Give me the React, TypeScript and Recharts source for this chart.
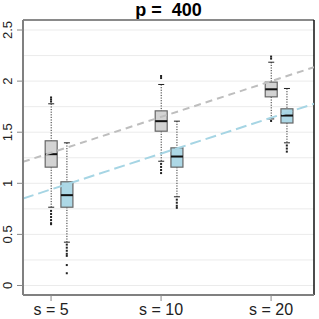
import {
  Bar,
  CartesianGrid,
  ComposedChart,
  Line,
  ReferenceLine,
  Scatter,
  XAxis,
  YAxis,
} from "recharts";

const categories = ["s = 5", "s = 10", "s = 20"];
const yTicks = [0, 0.5, 1, 1.5, 2, 2.5];
const gridValues = [0, 0.25, 0.5, 0.75, 1, 1.25, 1.5, 1.75, 2, 2.25, 2.5];

// box stats per category: lower whisker, q1, median, q3, upper whisker
const grayLo = [0.766, 1.216, 1.63];
const grayQ1 = [1.158, 1.51, 1.846];
const grayMed = [1.285, 1.608, 1.92];
const grayQ3 = [1.416, 1.709, 1.99];
const grayHi = [1.778, 1.967, 2.185];

const blueLo = [0.424, 0.868, 1.396];
const blueQ1 = [0.766, 1.158, 1.59];
const blueMed = [0.884, 1.262, 1.663];
const blueQ3 = [1.015, 1.347, 1.729];
const blueHi = [1.396, 1.608, 1.928];

const grayOutliers = [
  [1.8, 1.82, 1.84, 0.73, 0.7, 0.67, 0.64, 0.61, 0.6],
  [2.05, 2.03, 1.19, 1.16, 1.13, 1.1],
  [2.24, 2.22, 1.61],
];
const blueOutliers = [
  [0.4, 0.37, 0.34, 0.31, 0.29, 0.2, 0.12],
  [0.84, 0.81, 0.78, 0.76],
  [1.37, 1.34, 1.31],
];

// dashed trend lines, values at the left and right plot edges
const trendX = [0.745, 3.39];
const grayTrend = [1.21, 2.136];
const blueTrend = [0.851, 1.778];

const GRAY = "#d3d3d3";
const BLUE = "#add8e6";
const OFFSET = 0.143;
const X_DOMAIN: [number, number] = [0.745, 3.39];
const Y_DOMAIN: [number, number] = [-0.093, 2.598];

const boxes = [
  ...categories.map((_, i) => ({
    x: i + 1,
    lo: grayLo[i],
    q1: grayQ1[i],
    med: grayMed[i],
    q3: grayQ3[i],
    hi: grayHi[i],
    fill: GRAY,
  })),
  ...categories.map((_, i) => ({
    x: i + 1 + OFFSET,
    lo: blueLo[i],
    q1: blueQ1[i],
    med: blueMed[i],
    q3: blueQ3[i],
    hi: blueHi[i],
    fill: BLUE,
  })),
];

const outlierPoints = [
  ...grayOutliers.flatMap((vals, i) => vals.map((v) => ({ x: i + 1, y: v }))),
  ...blueOutliers.flatMap((vals, i) => vals.map((v) => ({ x: i + 1 + OFFSET, y: v }))),
];

const grayLine = trendX.map((x, i) => ({ x, y: grayTrend[i] }));
const blueLine = trendX.map((x, i) => ({ x, y: blueTrend[i] }));

function BoxShape(props: any) {
  const { x, y, width, height, payload } = props;
  if (payload == null || height == null) return null;
  const top = Math.min(y, y + height);
  const span = Math.abs(height);
  const py = (v: number) => top + (span * (payload.hi - v)) / (payload.hi - payload.lo);
  const cx = x + width / 2;
  const cap = width / 4;
  return (
    <g>
      <line x1={cx} x2={cx} y1={py(payload.hi)} y2={py(payload.q3)} stroke="#333" strokeWidth={1} strokeDasharray="1.2 1.4" />
      <line x1={cx} x2={cx} y1={py(payload.q1)} y2={py(payload.lo)} stroke="#333" strokeWidth={1} strokeDasharray="1.2 1.4" />
      <line x1={cx - cap} x2={cx + cap} y1={py(payload.hi)} y2={py(payload.hi)} stroke="#222" strokeWidth={1} />
      <line x1={cx - cap} x2={cx + cap} y1={py(payload.lo)} y2={py(payload.lo)} stroke="#222" strokeWidth={1} />
      <rect
        x={x}
        y={py(payload.q3)}
        width={width}
        height={py(payload.q1) - py(payload.q3)}
        fill={payload.fill}
        stroke="#666"
        strokeWidth={1.2}
      />
      <line x1={x} x2={x + width} y1={py(payload.med)} y2={py(payload.med)} stroke="#111" strokeWidth={2} />
    </g>
  );
}

function OutlierDot(props: any) {
  const { cx, cy } = props;
  if (cx == null || cy == null) return null;
  return <rect x={cx - 1} y={cy - 1} width={2} height={2} fill="#222" />;
}

function YTick(props: any) {
  const { x, y, payload } = props;
  return (
    <text
      x={x}
      y={y}
      transform={`rotate(-90, ${x}, ${y})`}
      textAnchor="middle"
      fontSize={13}
      fontFamily="Liberation Sans, Arial, sans-serif"
      fill="#222"
    >
      {payload.value}
    </text>
  );
}

function XTick(props: any) {
  const { x, y, payload } = props;
  return (
    <text
      x={x}
      y={y}
      dy={12}
      textAnchor="middle"
      fontSize={16}
      fontFamily="Liberation Sans, Arial, sans-serif"
      fill="#222"
    >
      {categories[payload.value - 1]}
    </text>
  );
}

export default function App() {
  return (
    <div style={{ position: "fixed", left: 0, top: 0, width: 319, height: 319, background: "#fff" }}>
      <div
        style={{
          position: "absolute",
          left: 23,
          width: 291,
          top: 0,
          lineHeight: "20px",
          textAlign: "center",
          fontFamily: "Liberation Sans, Arial, sans-serif",
          fontWeight: "bold",
          fontSize: 18,
          whiteSpace: "pre",
          color: "#000",
        }}
      >
        {"p =  400"}
      </div>
      <ComposedChart
        width={319}
        height={319}
        data={boxes}
        margin={{ top: 20, right: 5, left: 0, bottom: 0 }}
      >
        <CartesianGrid horizontalValues={gridValues} vertical={false} stroke="#ebebeb" strokeWidth={1} />
        <XAxis
          dataKey="x"
          type="number"
          domain={X_DOMAIN}
          ticks={[1, 2, 3]}
          allowDataOverflow
          height={24}
          tickSize={6}
          tickLine={{ stroke: "#888" }}
          axisLine={{ stroke: "#808080", strokeWidth: 2 }}
          tick={<XTick />}
        />
        <YAxis
          type="number"
          domain={Y_DOMAIN}
          ticks={yTicks}
          allowDataOverflow
          width={23}
          tickSize={6}
          tickMargin={5}
          tickLine={{ stroke: "#888" }}
          axisLine={{ stroke: "#808080", strokeWidth: 2 }}
          tick={<YTick />}
        />
        <ReferenceLine y={Y_DOMAIN[1]} stroke="#8a8a8a" strokeWidth={2} />
        <ReferenceLine x={X_DOMAIN[1]} stroke="#111" strokeWidth={1.5} />
        <Line
          data={grayLine}
          dataKey="y"
          stroke="#bebebe"
          strokeWidth={2}
          strokeDasharray="7 5"
          dot={false}
          isAnimationActive={false}
        />
        <Line
          data={blueLine}
          dataKey="y"
          stroke="#a6d5e4"
          strokeWidth={2}
          strokeDasharray="11 5"
          dot={false}
          isAnimationActive={false}
        />
        <Bar dataKey={(d: any) => [d.lo, d.hi]} barSize={12} shape={<BoxShape />} isAnimationActive={false} />
        <Scatter data={outlierPoints} dataKey="y" shape={<OutlierDot />} isAnimationActive={false} />
      </ComposedChart>
    </div>
  );
}
